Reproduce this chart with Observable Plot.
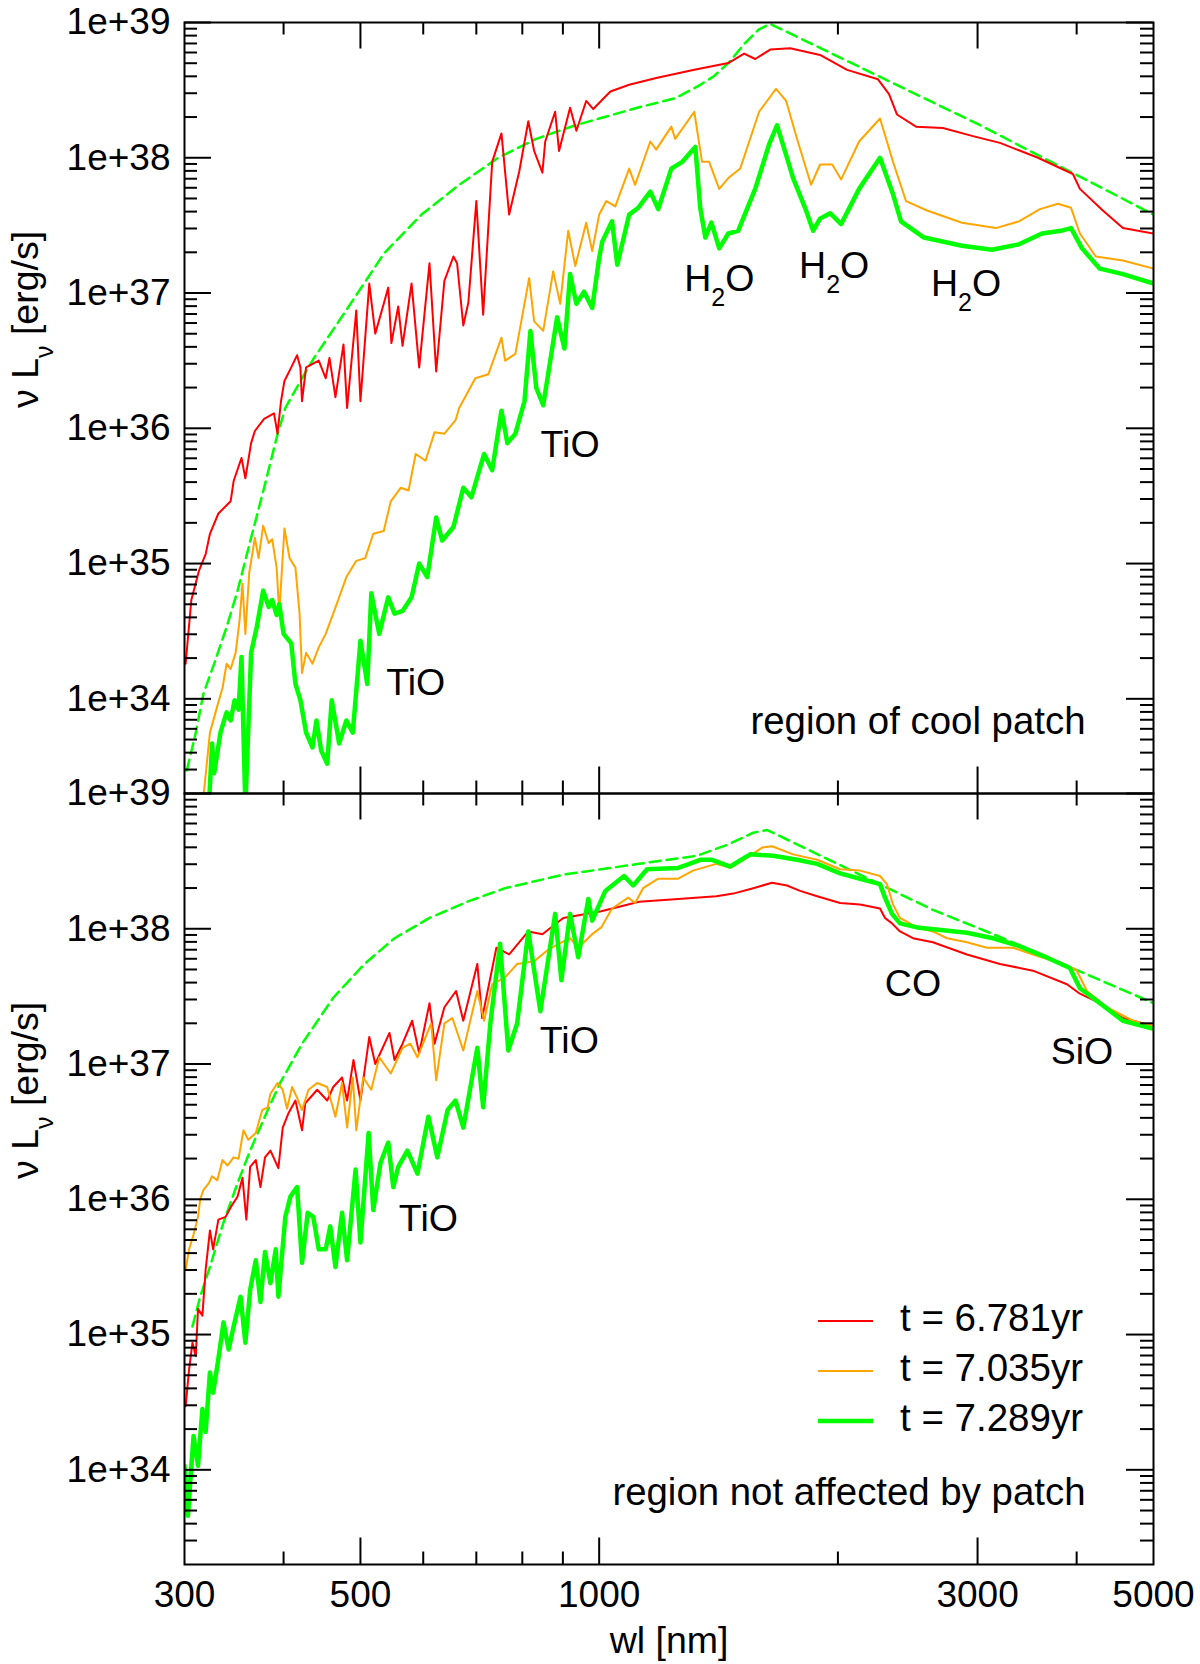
<!DOCTYPE html>
<html>
<head>
<meta charset="utf-8">
<script src="https://cdn.jsdelivr.net/npm/d3@7"></script>
<script src="https://cdn.jsdelivr.net/npm/@observablehq/plot@0.6"></script>
<style>
  body { margin: 0; background: #fff; }
  #chart svg { display: block; }
</style>
</head>
<body>
<div id="chart"></div>
<script>
// [wavelength nm, log10(nu L_nu / erg s^-1)]

// upper panel: region of cool patch
const redTop = [[301,34.26],[306,34.73],[313,34.95],[319,35.07],[323,35.22],[331,35.37],[343,35.46],[346,35.61],[354,35.78],[358,35.63],[364,35.89],[368,35.98],[378,36.07],[389,36.11],[393,35.96],[397,36.2],[401,36.35],[409,36.45],[416,36.54],[420,36.45],[422,36.2],[427,36.45],[443,36.5],[452,36.37],[457,36.52],[465,36.23],[476,36.62],[481,36.15],[494,36.87],[500,36.2],[513,37.07],[522,36.7],[535,36.92],[542,37.04],[547,36.63],[558,36.9],[565,36.61],[580,37.07],[593,36.45],[611,37.22],[623,36.42],[638,37.09],[655,37.27],[662,37.22],[674,36.76],[684,36.93],[700,37.68],[714,36.84],[733,37.97],[753,38.18],[770,37.58],[793,37.9],[814,38.27],[828,38.05],[848,37.89],[855,38.12],[880,38.34],[890,38.05],[919,38.37],[936,38.2],[963,38.42],[983,38.36],[1033,38.49],[1091,38.54],[1180,38.59],[1318,38.65],[1455,38.7],[1523,38.77],[1573,38.73],[1643,38.8],[1741,38.81],[1899,38.76],[2054,38.65],[2247,38.58],[2320,38.47],[2374,38.32],[2509,38.23],[2713,38.22],[2960,38.16],[3201,38.11],[3575,38.0],[3957,37.88],[4038,37.77],[4316,37.61],[4575,37.48],[5000,37.44]];

const orangeTop = [[316,33.2],[323,33.75],[329,33.92],[335,34.08],[339,34.26],[343,34.22],[348,34.34],[352,34.58],[355,34.85],[358,34.48],[362,34.93],[368,35.19],[372,35.04],[377,35.28],[383,35.15],[387,35.18],[392,34.97],[395,34.63],[401,35.26],[407,35.04],[414,34.97],[419,34.63],[422,34.19],[427,34.34],[435,34.26],[443,34.38],[452,34.48],[462,34.63],[470,34.75],[480,34.9],[494,35.02],[507,35.04],[519,35.22],[535,35.24],[546,35.46],[562,35.56],[575,35.54],[587,35.81],[604,35.76],[620,35.97],[638,35.96],[659,36.06],[666,36.15],[698,36.37],[725,36.4],[753,36.67],[761,36.5],[784,36.55],[816,37.11],[828,36.79],[850,36.72],[875,37.16],[893,36.92],[914,37.46],[933,37.2],[963,37.52],[980,37.31],[1000,37.58],[1021,37.68],[1048,37.64],[1091,37.92],[1110,37.8],[1160,38.12],[1180,38.06],[1233,38.23],[1247,38.14],[1318,38.34],[1348,37.97],[1376,37.97],[1417,37.77],[1455,37.85],[1506,37.92],[1591,38.34],[1671,38.51],[1721,38.42],[1776,38.14],[1850,37.8],[1899,37.95],[1967,37.95],[2019,37.84],[2127,38.12],[2260,38.29],[2347,37.97],[2437,37.68],[2591,37.61],[2867,37.52],[3164,37.48],[3383,37.53],[3596,37.62],[3789,37.66],[3935,37.63],[4038,37.44],[4229,37.27],[4575,37.24],[5000,37.18]];

const greenTop = [[322,33.2],[325,33.67],[327,33.45],[333,33.75],[339,33.9],[343,33.84],[347,33.99],[351,33.92],[354,34.31],[358,33.2],[364,34.34],[370,34.53],[377,34.8],[383,34.68],[387,34.73],[392,34.62],[395,34.7],[400,34.48],[409,34.41],[414,34.11],[420,33.99],[427,33.75],[435,33.64],[440,33.84],[446,33.62],[454,33.52],[460,33.99],[470,33.67],[480,33.84],[489,33.75],[500,34.43],[510,34.11],[516,34.78],[528,34.48],[542,34.75],[552,34.63],[565,34.65],[580,34.75],[593,35.0],[607,34.9],[623,35.34],[634,35.17],[655,35.27],[674,35.56],[690,35.49],[716,35.81],[733,35.69],[753,36.13],[766,35.89],[784,35.96],[805,36.2],[819,36.72],[833,36.3],[850,36.17],[885,36.82],[904,36.59],[919,37.14],[936,36.92],[957,37.01],[980,36.89],[1000,37.26],[1009,37.38],[1038,37.53],[1054,37.21],[1091,37.58],[1120,37.63],[1160,37.75],[1187,37.62],[1233,37.92],[1273,37.97],[1322,38.08],[1341,37.63],[1361,37.41],[1385,37.52],[1417,37.33],[1455,37.44],[1497,37.46],[1573,37.77],[1638,38.1],[1676,38.24],[1721,38.02],[1756,37.85],[1818,37.63],[1861,37.46],[1899,37.55],[1955,37.59],[2019,37.51],[2127,37.77],[2260,38.0],[2347,37.73],[2402,37.53],[2568,37.41],[2867,37.35],[3128,37.32],[3383,37.36],[3617,37.44],[3822,37.46],[3935,37.48],[4063,37.33],[4279,37.18],[4575,37.14],[5000,37.07]];

const dashedTop = [[302,33.47],[310,33.75],[317,34.04],[327,34.26],[339,34.53],[350,34.8],[364,35.19],[378,35.56],[392,35.93],[402,36.15],[422,36.37],[437,36.52],[477,36.85],[535,37.29],[597,37.58],[666,37.8],[746,38.0],[833,38.14],[933,38.24],[1000,38.29],[1117,38.37],[1247,38.44],[1333,38.53],[1393,38.6],[1455,38.7],[1523,38.84],[1591,38.95],[1643,38.99],[3000,38.25],[5000,37.58]];

// lower panel: region not affected by patch
const redBottom = [[301,34.47],[304,34.74],[307,34.94],[310,34.84],[312,35.19],[316,35.14],[319,35.48],[323,35.77],[326,35.63],[331,35.85],[338,35.87],[343,35.94],[350,36.02],[355,36.16],[359,35.85],[363,36.24],[369,36.29],[374,36.09],[379,36.31],[385,36.36],[394,36.23],[399,36.53],[406,36.64],[414,36.73],[422,36.51],[426,36.71],[441,36.81],[454,36.73],[462,36.83],[474,36.9],[481,36.73],[490,37.03],[500,36.73],[513,37.2],[522,37.0],[544,37.23],[552,37.03],[565,37.15],[581,37.32],[593,37.08],[611,37.45],[620,37.15],[638,37.42],[660,37.54],[674,37.32],[702,37.74],[712,37.34],[742,37.86],[770,37.81],[814,37.98],[848,37.96],[901,38.08],[1006,38.13],[1123,38.2],[1258,38.22],[1405,38.24],[1476,38.26],[1564,38.3],[1652,38.34],[1725,38.32],[1792,38.28],[1883,38.24],[2013,38.19],[2133,38.18],[2260,38.15],[2293,38.08],[2340,38.04],[2395,37.98],[2487,37.93],[2635,37.9],[2909,37.81],[3201,37.74],[3523,37.69],[3889,37.59],[4038,37.52],[4279,37.45],[4575,37.34],[5000,37.28]];

const orangeBottom = [[301,35.48],[304,35.63],[308,35.74],[312,35.87],[314,36.0],[317,36.07],[322,36.12],[325,36.17],[330,36.14],[335,36.29],[340,36.25],[346,36.31],[351,36.3],[356,36.51],[361,36.44],[369,36.49],[376,36.66],[382,36.68],[385,36.78],[393,36.86],[399,36.81],[404,36.67],[410,36.83],[416,36.75],[422,36.66],[430,36.81],[441,36.86],[454,36.83],[465,36.61],[474,36.86],[481,36.53],[489,36.9],[494,36.51],[504,36.9],[516,36.81],[528,37.05],[546,36.93],[565,37.12],[578,37.15],[590,37.05],[614,37.3],[623,36.88],[638,37.3],[653,37.34],[674,37.1],[702,37.54],[716,37.32],[733,37.59],[761,37.64],[788,37.74],[828,37.76],[860,37.84],[890,37.89],[919,37.93],[941,37.86],[980,37.96],[1006,38.01],[1038,38.15],[1088,38.23],[1110,38.19],[1136,38.3],[1187,38.37],[1258,38.37],[1313,38.43],[1405,38.48],[1463,38.45],[1532,38.52],[1605,38.6],[1652,38.61],[1756,38.55],[1883,38.51],[2013,38.44],[2133,38.43],[2260,38.39],[2306,38.33],[2347,38.18],[2395,38.08],[2516,38.01],[2635,37.98],[2745,37.93],[2909,37.9],[3083,37.86],[3324,37.86],[3523,37.81],[3889,37.73],[4003,37.69],[4121,37.54],[4367,37.42],[4710,37.32],[5000,37.28]];

const greenBottom = [[300,34.03],[303,33.66],[305,33.91],[308,34.25],[312,34.03],[316,34.45],[319,34.28],[323,34.72],[326,34.57],[331,34.82],[336,35.09],[341,34.89],[346,35.06],[353,35.28],[358,34.94],[363,35.33],[369,35.55],[374,35.24],[379,35.61],[385,35.38],[391,35.63],[394,35.28],[402,35.87],[408,36.02],[416,36.09],[422,35.53],[429,35.9],[436,35.87],[443,35.63],[452,35.63],[458,35.8],[465,35.5],[474,35.9],[481,35.55],[493,36.22],[500,35.68],[512,36.49],[519,35.92],[530,36.27],[542,36.42],[550,36.09],[558,36.24],[573,36.36],[590,36.19],[609,36.61],[625,36.31],[644,36.66],[659,36.73],[674,36.53],[702,37.12],[714,36.68],[729,37.3],[750,37.89],[768,37.1],[788,37.3],[814,37.98],[843,37.39],[880,38.11],[896,37.62],[919,38.11],[941,37.79],[969,38.22],[980,38.06],[1018,38.28],[1075,38.39],[1104,38.32],[1149,38.44],[1258,38.45],[1341,38.51],[1388,38.51],[1463,38.46],[1550,38.55],[1657,38.54],[1776,38.51],[1883,38.48],[2013,38.41],[2133,38.37],[2260,38.33],[2293,38.23],[2340,38.11],[2395,38.04],[2516,38.01],[2909,37.97],[3137,37.93],[3393,37.87],[3627,37.8],[3922,37.71],[4038,37.56],[4279,37.45],[4575,37.32],[5000,37.26]];

const dashedBottom = [[307,35.06],[314,35.28],[323,35.5],[336,35.83],[350,36.12],[363,36.36],[382,36.66],[396,36.86],[412,37.04],[422,37.15],[462,37.49],[506,37.74],[552,37.93],[611,38.08],[682,38.2],[761,38.3],[901,38.4],[1123,38.48],[1329,38.54],[1450,38.62],[1564,38.71],[1629,38.73],[2635,38.14],[3201,37.94],[5000,37.45]];

const panels = ["top", "bottom"];
const legendLabels = ["t = 6.781yr", "t = 7.035yr", "t = 7.289yr"];
const regionLabels = [
  {panel: "top", text: "region of cool patch"},
  {panel: "bottom", text: "region not affected by patch"}
];
const moleculeLabels = [
  {panel: "top", text: "TiO", wl: 919, L: 7.55e35},
  {panel: "top", text: "TiO", wl: 587, L: 1.32e34},
  {panel: "bottom", text: "TiO", wl: 917, L: 1.49e37},
  {panel: "bottom", text: "TiO", wl: 609, L: 7.18e35},
  {panel: "bottom", text: "CO", wl: 2487, L: 3.93e37},
  {panel: "bottom", text: "SiO", wl: 4063, L: 1.22e37}
];
const waterLabels = [
  {panel: "top", wl: 1280, L: 1.035e37},
  {panel: "top", wl: 1787, L: 1.29e37},
  {panel: "top", wl: 2620, L: 9.5e36}
];
const xTickLabels = [300, 500, 1000, 3000, 5000];
const xMajor = [500, 1000, 3000];
const xMinor = [400, 600, 700, 800, 900, 2000, 4000];
const yMajor = [1e34, 1e35, 1e36, 1e37, 1e38, 1e39];
const yMinor = d3.range(33, 39)
  .flatMap(e => d3.range(2, 10).map(m => m * 10 ** e))
  .filter(v => v > 2.1e33);

const RED = "#ff0000", ORANGE = "#ffa500", GREEN = "#00ff00";
const FONT = "'Liberation Sans', Arial, Helvetica, sans-serif";
const W = 1200, H = 1664;
const M = {top: 21, right: 47, bottom: 100, left: 184};
const frameW = W - M.left - M.right;
const facetH = (H - M.top - M.bottom) / 2;

function rows(panel, pts) {
  return pts.map(([wl, lg]) => ({panel, wl, L: 10 ** lg}));
}
const redRows = [...rows("top", redTop), ...rows("bottom", redBottom)];
const orangeRows = [...rows("top", orangeTop), ...rows("bottom", orangeBottom)];
const greenRows = [...rows("top", greenTop), ...rows("bottom", greenBottom)];
const dashedRows = [...rows("top", dashedTop), ...rows("bottom", dashedBottom)];

const lineOpts = {x: "wl", y: "L", fy: "panel", clip: true, strokeLinejoin: "round"};
const tick = {stroke: "black", strokeWidth: 2};

const chart = Plot.plot({
  width: W, height: H,
  marginTop: M.top, marginRight: M.right, marginBottom: M.bottom, marginLeft: M.left,
  style: {fontFamily: FONT, fontSize: "37px", background: "white", color: "black", overflow: "visible"},
  x: {type: "log", domain: [300, 5000]},
  y: {type: "log", domain: [10 ** 33.3, 1e39]},
  fy: {domain: panels, padding: 0, axis: null},
  marks: [
    Plot.line(dashedRows, {...lineOpts, stroke: GREEN, strokeWidth: 2.5, strokeDasharray: "11,6"}),
    Plot.line(redRows, {...lineOpts, stroke: RED, strokeWidth: 2}),
    Plot.line(orangeRows, {...lineOpts, stroke: ORANGE, strokeWidth: 2}),
    Plot.line(greenRows, {...lineOpts, stroke: GREEN, strokeWidth: 4.5}),

    // inward ticks on all four sides
    Plot.tickY(yMajor, {y: d => d, insetRight: frameW - 27, ...tick}),
    Plot.tickY(yMajor, {y: d => d, insetLeft: frameW - 27, ...tick}),
    Plot.tickY(yMinor, {y: d => d, insetRight: frameW - 13, ...tick}),
    Plot.tickY(yMinor, {y: d => d, insetLeft: frameW - 13, ...tick}),
    Plot.tickX(xMajor, {x: d => d, insetTop: facetH - 27, ...tick}),
    Plot.tickX(xMajor, {x: d => d, insetBottom: facetH - 27, ...tick}),
    Plot.tickX(xMinor, {x: d => d, insetTop: facetH - 13, ...tick}),
    Plot.tickX(xMinor, {x: d => d, insetBottom: facetH - 13, ...tick}),
    Plot.frame({stroke: "black", strokeWidth: 2}),

    Plot.axisY({ticks: yMajor, tickSize: 0, tickPadding: 14, label: null, fontSize: 37,
      tickFormat: d => "1e+" + Math.round(Math.log10(d))}),
    Plot.axisX({ticks: xTickLabels, tickSize: 0, tickPadding: 16, label: null, fontSize: 37,
      tickFormat: d => String(d)}),
    Plot.text(["wl [nm]"], {fy: () => "bottom", frameAnchor: "bottom", dy: 76,
      text: d => d, lineAnchor: "middle", fontSize: 37.5}),
    Plot.text(["ν L_ν [erg/s]"], {frameAnchor: "left", dx: -159, rotate: -90,
      text: d => d, lineAnchor: "middle", fontSize: 37.5}),

    Plot.text(moleculeLabels, {x: "wl", y: "L", fy: "panel", text: "text", fontSize: 37.5}),
    Plot.text(waterLabels, {x: "wl", y: "L", fy: "panel", text: () => "H2O",
      textAnchor: "start", lineAnchor: "bottom", fontSize: 37.5}),
    Plot.text(regionLabels, {fy: "panel", text: "text", frameAnchor: "bottom-right",
      dx: -68, dy: -72, textAnchor: "end", lineAnchor: "middle", fontSize: 38.4})
  ]
});

// subscripts (H2O, L_nu)
function subscript(node, a, b, c) {
  const t = d3.select(node).text(a);
  t.append("tspan").attr("font-size", 25).attr("dy", 15).text(b);
  t.append("tspan").attr("dy", -15).text(c);
}
chart.querySelectorAll("text").forEach(node => {
  const s = node.textContent;
  if (s === "H2O") subscript(node, "H", "2", "O");
  else if (s === "ν L_ν [erg/s]") subscript(node, "ν L", "ν", " [erg/s]");
});

// legend inside the lower panel
const legendColors = [RED, ORANGE, GREEN];
const legendWidths = [2, 2, 4.5];
const legend = d3.select(chart).append("g")
  .attr("font-family", FONT).attr("font-size", 38.5).attr("text-anchor", "start");
legendLabels.forEach((label, i) => {
  const y = 1321 + i * 50;
  legend.append("line")
    .attr("x1", 818).attr("x2", 873).attr("y1", y).attr("y2", y)
    .attr("stroke", legendColors[i]).attr("stroke-width", legendWidths[i]);
  legend.append("text").attr("x", 900).attr("y", y + 10)
    .attr("fill", "black").attr("text-anchor", "start").text(label);
});

document.getElementById("chart").append(chart);
</script>
</body>
</html>
